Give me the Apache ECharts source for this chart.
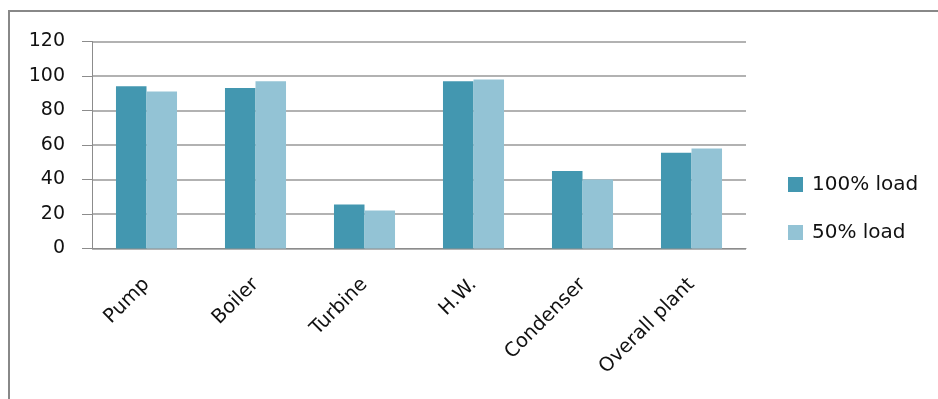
<!DOCTYPE html>
<html>
<head>
<meta charset="utf-8">
<script src="https://cdn.jsdelivr.net/npm/echarts@6/dist/echarts.min.js"></script>
<style>
  html, body { margin: 0; padding: 0; background: #fff; }
  #chart { width: 938px; height: 399px; }
</style>
</head>
<body>
<div id="chart"></div>
<script>
// Component efficiency by plant load
const categories = ['Pump', 'Boiler', 'Turbine', 'H.W.', 'Condenser', 'Overall plant'];
const fullLoad = [94, 93, 25.5, 97, 45, 55.5];
const halfLoad = [91, 97, 22, 98, 40, 58];
const seriesNames = ['100% load', '50% load'];

const FONT = 'DejaVu Sans';
const chart = echarts.init(document.getElementById('chart'));

chart.setOption({
  animation: false,
  backgroundColor: '#ffffff',
  color: ['#4397b0', '#93c3d5'],
  graphic: [{
    type: 'rect',
    shape: { x: 9, y: 11, width: 1000, height: 500 },
    style: { fill: 'none', stroke: '#888888', lineWidth: 2 },
    silent: true
  }],
  legend: {
    orient: 'vertical',
    left: 783,
    top: 169.5,
    itemWidth: 15,
    itemHeight: 15,
    itemGap: 28,
    icon: 'rect',
    textStyle: { fontFamily: FONT, fontSize: 20, lineHeight: 20, color: '#111', padding: [0, 0, 0, 4] },
    data: seriesNames
  },
  grid: { left: 92, right: 192, top: 41.5, bottom: 150.5 },
  xAxis: {
    type: 'category',
    data: categories,
    axisLine: { lineStyle: { color: '#8c8c8c', width: 1 } },
    axisTick: { length: 8, lineStyle: { color: '#8c8c8c' } },
    axisLabel: {
      rotate: 45,
      margin: 33,
      fontFamily: FONT,
      fontSize: 19.5,
      color: '#111'
    }
  },
  yAxis: {
    type: 'value',
    min: 0,
    max: 120,
    interval: 20,
    axisLine: { show: true, lineStyle: { color: '#8c8c8c' } },
    axisTick: { show: true, length: 10, lineStyle: { color: '#8c8c8c' } },
    axisLabel: { margin: 27, fontFamily: FONT, fontSize: 19, color: '#111' },
    splitLine: { lineStyle: { color: '#999999', width: 1.5 } }
  },
  series: [
    { name: seriesNames[0], type: 'bar', data: fullLoad, barGap: '0%', barCategoryGap: '44%' },
    { name: seriesNames[1], type: 'bar', data: halfLoad, barGap: '0%', barCategoryGap: '44%' }
  ]
});
</script>
</body>
</html>
